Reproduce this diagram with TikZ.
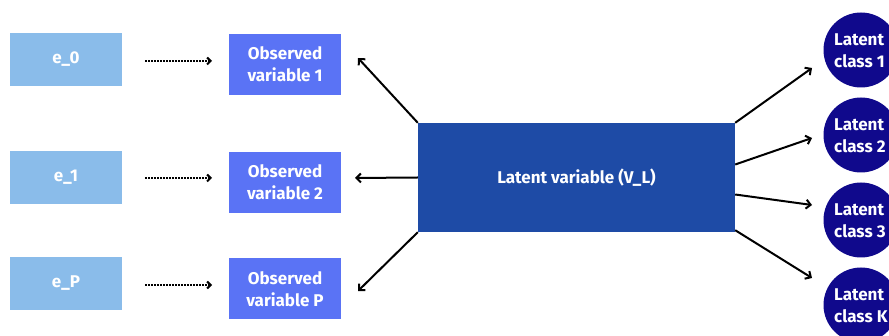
\documentclass[tikz,border=0pt]{standalone}
\usepackage{fontspec}
\setmainfont{Fira Sans}
\usetikzlibrary{arrows.meta}
\definecolor{ebox}{HTML}{8ABCEA}
\definecolor{obox}{HTML}{5A73F5}
\definecolor{lbox}{HTML}{1E4BA6}
\definecolor{cbox}{HTML}{10098C}
\begin{document}
\begin{tikzpicture}[x=1pt,y=-1pt,
  ebx/.style={fill=ebox,draw=none,minimum width=112pt,minimum height=53pt,text=white,font=\fontsize{17}{21}\selectfont\bfseries},
  obx/.style={fill=obox,draw=none,minimum width=112pt,minimum height=61pt,text=white,align=center,font=\fontsize{17}{22}\selectfont\bfseries},
  lbx/.style={fill=lbox,draw=none,minimum width=317pt,minimum height=109pt,text=white,font=\fontsize{17}{21}\selectfont\bfseries},
  cls/.style={circle,fill=cbox,draw=none,minimum size=75pt,inner sep=0pt},
  clt/.style={text=white,align=left,anchor=west,inner sep=0pt,font=\fontsize{17}{22}\selectfont\bfseries},
  arr/.style={-{Straight Barb[length=4.5pt,width=9pt]},line width=2pt},
  darr/.style={-{Straight Barb[length=3.5pt,width=7pt]},line width=2pt,dash pattern=on 1.5pt off 1.5pt}
]
\useasboundingbox (0,0) rectangle (889,336);
\clip (0,0) rectangle (889,336);
\node[ebx] (e0) at (66,59.5) {e\_0};
\node[ebx] (e1) at (66,177.5) {e\_1};
\node[ebx] (eP) at (66,283.5) {e\_P};
\node[obx] (o1) at (285,64.5) {Observed\\variable 1};
\node[obx] (o2) at (285,182.5) {Observed\\variable 2};
\node[obx] (oP) at (285,289) {Observed\\variable P};
\node[lbx] (L) at (576.5,177.5) {Latent variable (V\_L)};
\node[cls] (c1) at (861,50) {};
\node[cls] (c2) at (861,135) {};
\node[cls] (c3) at (861,220) {};
\node[cls] (c4) at (861,305) {};
\node[clt] (t1) at (834,51) {Latent\\class 1};
\node[clt] (t2) at (834,136) {Latent\\class 2};
\node[clt] (t3) at (834,221) {Latent\\class 3};
\node[clt] (t4) at (834,306) {Latent\\class K};
\coordinate (d0s) at (145,61); \coordinate (d0e) at (212,61);
\coordinate (d1s) at (145,178); \coordinate (d1e) at (212,178);
\coordinate (dPs) at (145,285); \coordinate (dPe) at (212,285);
\draw[darr] (d0s) -- (d0e);
\draw[darr] (d1s) -- (d1e);
\draw[darr] (dPs) -- (dPe);
\coordinate (a1) at (358,58);
\coordinate (a2) at (355,178);
\coordinate (a3) at (358,291);
\draw[arr] (L.north west) -- (a1);
\draw[arr] (L.west) -- (a2);
\draw[arr] (L.south west) -- (a3);
\coordinate (b1) at (812,68);
\coordinate (b2) at (812,138);
\coordinate (b3) at (812,205);
\coordinate (b4) at (812,278);
\draw[arr] (L.north east) -- (b1);
\draw[arr] ([yshift=13pt]L.east) -- (b2);
\draw[arr] ([yshift=-17pt]L.east) -- (b3);
\draw[arr] ([yshift=2pt]L.south east) -- (b4);
\end{tikzpicture}
\end{document}
